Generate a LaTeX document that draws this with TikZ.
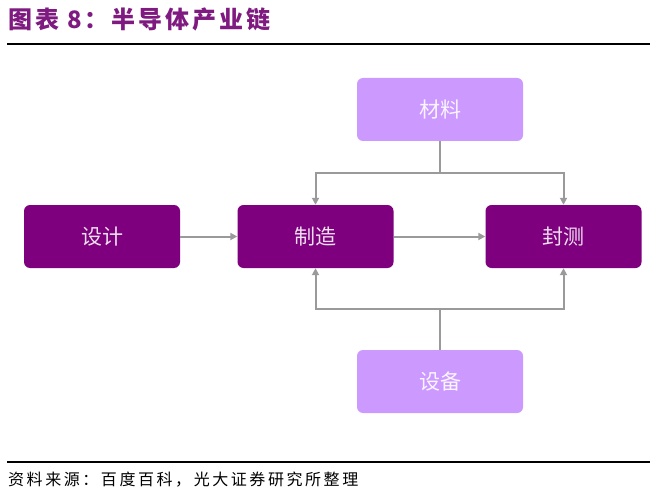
\documentclass[tikz,border=0pt]{standalone}
\usepackage{fontspec}
\setmainfont{Liberation Serif}
\newfontfamily\cjk{Noto Sans CJK SC}
\newfontfamily\cjksrc[LetterSpace=16]{Noto Sans CJK SC}
\newfontfamily\cjktitle[LetterSpace=12]{Noto Sans CJK SC}
\usetikzlibrary{arrows.meta}
\definecolor{darkp}{HTML}{7E007E}
\definecolor{lightp}{HTML}{CC99FF}
\definecolor{titlep}{HTML}{7F1A80}
\definecolor{conn}{HTML}{9A9A9A}
\tikzset{
  box/.style={rounded corners=6pt, minimum width=156pt, minimum height=63pt, inner sep=0pt, font=\cjk\fontsize{21}{21}\selectfont},
  darkbox/.style={box, fill=darkp, text=white!88!darkp},
  lightbox/.style={box, fill=lightp, text=white!90!lightp, minimum width=166pt},
  conline/.style={draw=conn, line width=2pt},
  conarrow/.style={conline, -{Triangle[length=7pt,width=7pt]}},
}
\begin{document}
\begin{tikzpicture}[x=1pt,y=-1pt]
\useasboundingbox (0,0) rectangle (650,497);
\fill[white] (0,0) rectangle (650,497);
\node[anchor=west, text=titlep, font=\cjktitle\bfseries\fontsize{24}{24}\selectfont, inner sep=0pt] (title) at (8,19) {图表 8：半导体产业链};
\draw[line width=2pt] (7,44) -- (650,44);
\draw[line width=2pt] (7,462) -- (650,462);
\node[anchor=west, font=\cjksrc\fontsize{16}{16}\selectfont, inner sep=0pt] (src) at (8,480) {资料来源：百度百科，光大证券研究所整理};

\node[lightbox] (cl) at (440,109.5) {材料};
\node[darkbox] (sj) at (102,236.5) {设计};
\node[darkbox] (zz) at (315.5,236.5) {制造};
\node[darkbox] (fc) at (563.5,236.5) {封测};
\node[lightbox] (sb) at (440,381.5) {设备};

\coordinate (tj) at (440,173);
\coordinate (bj) at (440,309);

\draw[conarrow] (sj.east) -- (zz.west);
\draw[conarrow] (zz.east) -- (fc.west);
\draw[conline] (cl.south) -- (tj);
\draw[conarrow] (tj) -| (zz.north);
\draw[conarrow] (tj) -| (fc.north);
\draw[conline] (sb.north) -- (bj);
\draw[conarrow] (bj) -| (zz.south);
\draw[conarrow] (bj) -| (fc.south);
\end{tikzpicture}
\end{document}
